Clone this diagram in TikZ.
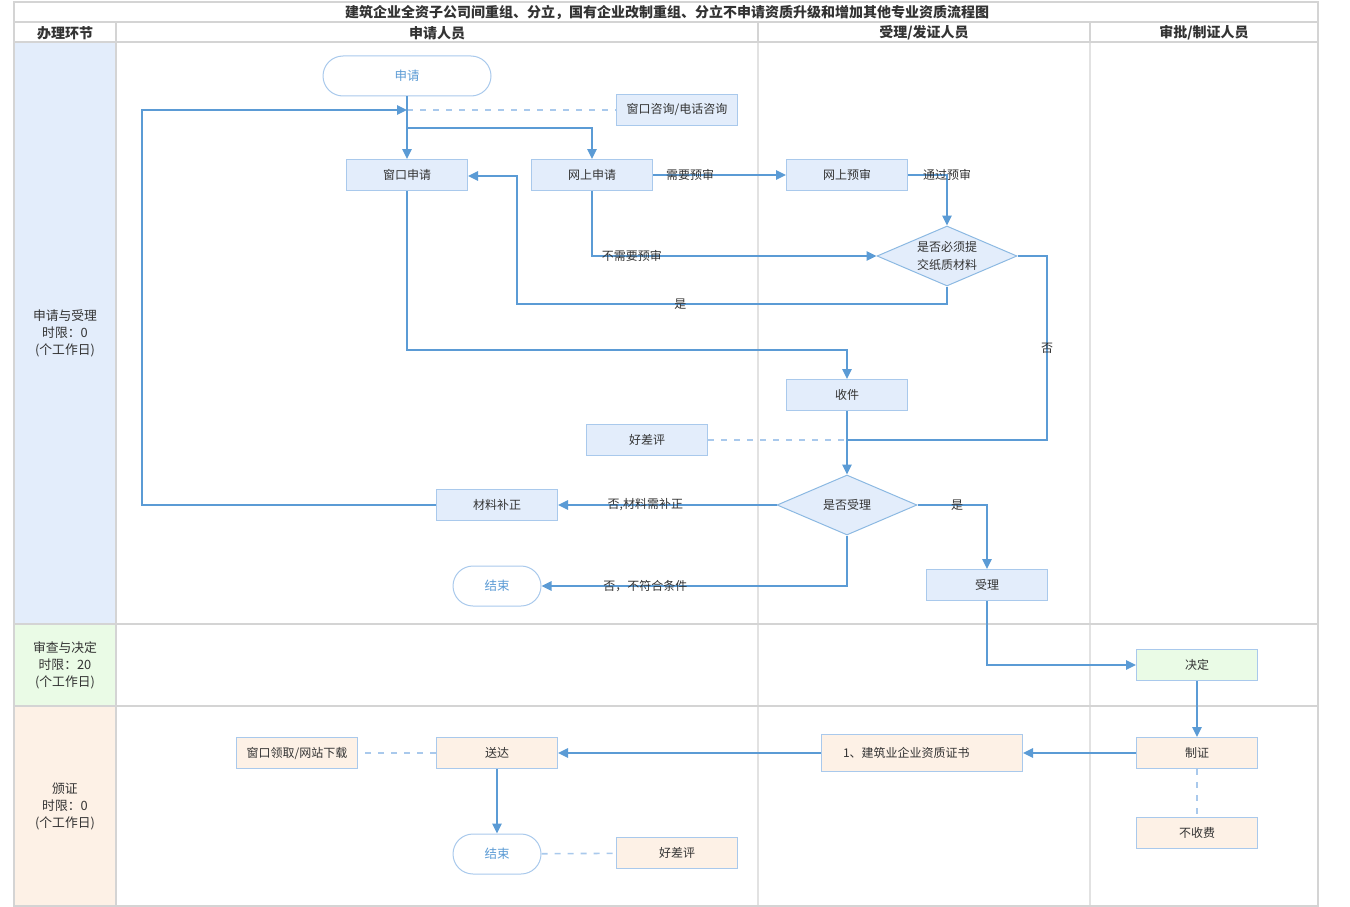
\documentclass[tikz,border=0pt]{standalone}
\usepackage{fontspec}
\setmainfont{Noto Sans CJK SC}
\usetikzlibrary{arrows.meta,shapes.geometric}
\definecolor{lineblue}{HTML}{5B9BD5}
\definecolor{boxline}{HTML}{A9C9EC}
\definecolor{boxblue}{HTML}{E3EDFB}
\definecolor{boxgreen}{HTML}{EAFBE6}
\definecolor{boxorange}{HTML}{FDF1E6}
\definecolor{gridgray}{HTML}{D4D4D4}
\definecolor{lanegray}{HTML}{E2E2E2}
\definecolor{txt}{HTML}{333333}
\tikzset{
  box/.style={draw=boxline, fill=boxblue, line width=1pt, minimum width=121pt, minimum height=31pt, inner sep=0pt, text=txt, font=\fontsize{12}{13}\selectfont},
  term/.style={draw=boxline, fill=white, line width=1pt, rounded corners=20pt, minimum width=88pt, minimum height=40pt, inner sep=0pt, text=lineblue, font=\fontsize{12.5}{14}\selectfont},
  dia/.style={diamond, draw=lineblue!70, fill=boxblue, line width=1pt, aspect=2.33, minimum width=140pt, minimum height=60pt, inner sep=0pt, text=txt, align=center, font=\fontsize{12}{18.5}\selectfont},
  conn/.style={draw=lineblue, line width=1.6pt},
  arr/.style={conn, -{Triangle[length=10pt,width=9.5pt]}},
  dsh/.style={draw=boxline, line width=1.6pt, dash pattern=on 6pt off 7pt},
  lbl/.style={text=txt, inner sep=0pt, font=\fontsize{12}{13}\selectfont},
  hdr/.style={text=txt, inner sep=0pt, font=\fontsize{14}{15}\selectfont\bfseries},
  phase/.style={text=txt, inner sep=0pt, align=center, font=\fontsize{12.8}{17}\selectfont},
}
\begin{document}
\begin{tikzpicture}[x=1pt,y=-1pt]
\useasboundingbox (0,0) rectangle (1350,907);
% phase fills
\fill[boxblue] (14,42) rectangle (116,624);
\fill[boxgreen] (14,624) rectangle (116,706);
\fill[boxorange] (14,706) rectangle (116,906);
% grid
\draw[lanegray, line width=2pt] (758,42) -- (758,906) (1090,42) -- (1090,906);
\draw[gridgray, line width=2pt] (14,2) rectangle (1318,906);
\draw[gridgray, line width=2pt] (14,22) -- (1318,22) (14,42) -- (1318,42) (14,624) -- (1318,624) (14,706) -- (1318,706);
\draw[gridgray, line width=2pt] (116,22) -- (116,906) (758,22) -- (758,42) (1090,22) -- (1090,42);
% header texts
\node[hdr] (title) at (667,12) {建筑企业全资子公司间重组、分立，国有企业改制重组、分立不申请资质升级和增加其他专业资质流程图};
\node[hdr] (h0) at (65,33) {办理环节};
\node[hdr] (h1) at (437,33) {申请人员};
\node[hdr] (h2) at (924,33) {受理/发证人员};
\node[hdr] (h3) at (1204,33) {审批/制证人员};
\node[phase] (p1) at (65,333) {申请与受理\\时限：0\\(个工作日)};
\node[phase] (p2) at (65,665) {审查与决定\\时限：20\\(个工作日)};
\node[phase] (p3) at (65,806) {颁证\\时限：0\\(个工作日)};
% nodes
\node[term, minimum width=168pt] (start) at (407,76) {申请};
\node[box] (consult) at (677,110) {窗口咨询/电话咨询};
\node[box] (win) at (407,175) {窗口申请};
\node[box] (net) at (592,175) {网上申请};
\node[box] (pre) at (847,175) {网上预审};
\node[dia] (paper) at (947,256) {是否必须提\\交纸质材料};
\node[box] (recv) at (847,395) {收件};
\node[box] (eval1) at (647,440) {好差评};
\node[dia] (acceptq) at (847,505) {是否受理};
\node[box] (fix) at (497,505) {材料补正};
\node[term] (end1) at (497,586) {结束};
\node[box] (acc) at (987,585) {受理};
\node[box, fill=boxgreen] (dec) at (1197,665) {决定};
\node[box, fill=boxorange] (make) at (1197,753) {制证};
\node[box, fill=boxorange] (free) at (1197,833) {不收费};
\node[box, fill=boxorange, minimum width=201pt, minimum height=37pt, text width=158pt, align=left] (cert) at (922,753) {1、建筑业企业资质证书};
\node[box, fill=boxorange] (send) at (497,753) {送达};
\node[box, fill=boxorange] (pick) at (297,753) {窗口领取/网站下载};
\node[term] (end2) at (497,854) {结束};
\node[box, fill=boxorange] (eval2) at (677,853) {好差评};
% coordinates
\coordinate (j0) at (407,110);
\coordinate (j1) at (407,128);
\coordinate (loopL) at (142,505);
\coordinate (y1) at (517,304);
\coordinate (y2) at (517,176);
\coordinate (r1) at (847,350);
\coordinate (n1) at (1047,256);
\coordinate (n2) at (1047,440);
\coordinate (n3) at (847,440);
% connectors
\draw[dsh] (j0) -- (consult);
\draw[arr] (start) -- (win);
\draw[arr] (j1) -| (net);
\draw[arr] (fix) -- (loopL) |- (j0);
\draw[arr] (net) -- node[lbl, pos=0.28]{需要预审} (pre);
\draw[arr] (pre) -| node[lbl, pos=0.5]{通过预审} (paper);
\draw[arr] (net) |- node[lbl, pos=0.57]{不需要预审} (paper);
\draw[arr] (paper.south) |- node[lbl, pos=0.81]{是} (y1) -- (y2) -- (y2 -| win.east);
\draw[arr] (win) |- (r1) -- (recv);
\draw[conn] (paper.east) -- (n1) -- node[lbl]{否} (n2) -- (n3);
\draw[dsh] (eval1) -- (n3);
\draw[arr] (recv) -- (acceptq);
\draw[arr] (acceptq.west) -- node[lbl, pos=0.6]{否,材料需补正} (fix.east);
\draw[arr] (acceptq.east) -| node[lbl, pos=0.285]{是} (acc);
\draw[arr] (acceptq.south) |- node[lbl, pos=0.83]{否，不符合条件} (end1);
\draw[arr] (acc) |- (dec);
\draw[arr] (dec) -- (make);
\draw[arr] (make) -- (cert);
\draw[arr] (cert) -- (send);
\draw[dsh] (send) -- (pick);
\draw[arr] (send) -- (end2);
\draw[dsh] (end2) -- (eval2);
\draw[dsh] (make) -- (free);
\end{tikzpicture}
\end{document}
